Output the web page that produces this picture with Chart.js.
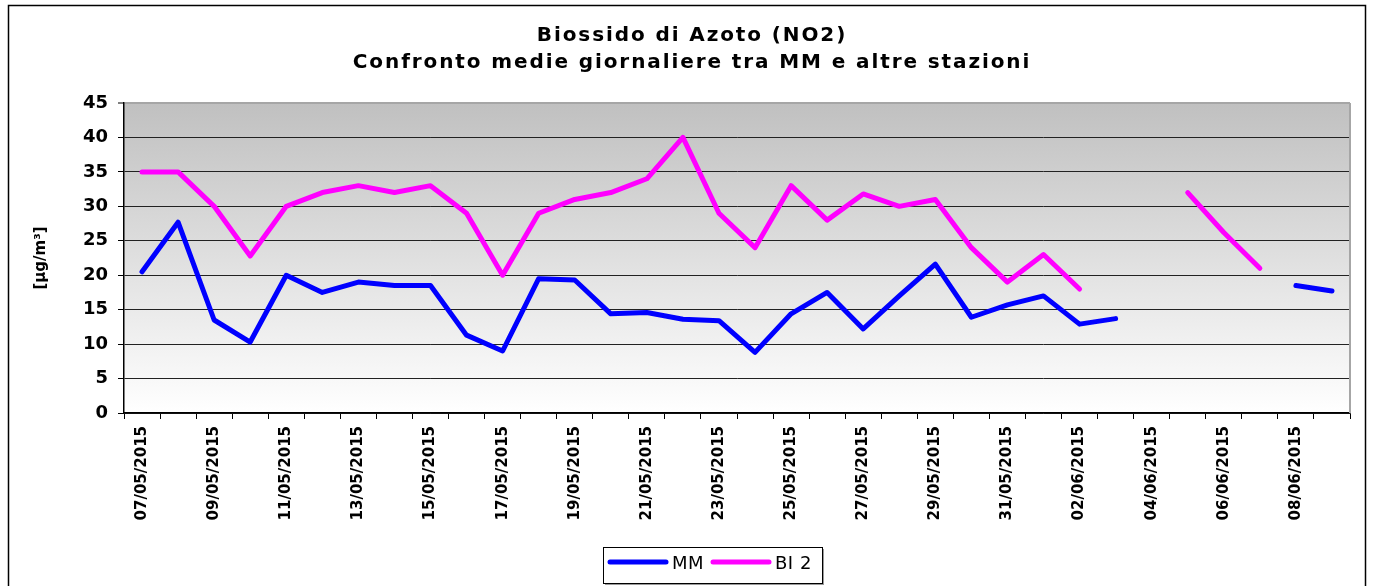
<!DOCTYPE html>
<html>
<head>
<meta charset="utf-8">
<script src="https://cdn.jsdelivr.net/npm/chart.js@4.4.0/dist/chart.umd.min.js"></script>
<style>
html,body{margin:0;padding:0;background:#fff;}
#wrap{width:1374px;height:586px;position:relative;overflow:hidden;}
canvas{display:block;}
</style>
</head>
<body>
<div id="wrap"><canvas id="c" width="1374" height="586"></canvas></div>
<script>
// ---- data ----
const categories = [
  '07/05/2015','08/05/2015','09/05/2015','10/05/2015','11/05/2015','12/05/2015','13/05/2015',
  '14/05/2015','15/05/2015','16/05/2015','17/05/2015','18/05/2015','19/05/2015','20/05/2015',
  '21/05/2015','22/05/2015','23/05/2015','24/05/2015','25/05/2015','26/05/2015','27/05/2015',
  '28/05/2015','29/05/2015','30/05/2015','31/05/2015','01/06/2015','02/06/2015','03/06/2015',
  '04/06/2015','05/06/2015','06/06/2015','07/06/2015','08/06/2015','09/06/2015'
];
const mmValues = [
  20.5, 27.7, 13.5, 10.3, 20.0, 17.5, 19.0, 18.5, 18.5, 11.3,
  9.0, 19.5, 19.3, 14.4, 14.6, 13.6, 13.4, 8.8, 14.4, 17.5,
  12.2, 17.0, 21.6, 13.9, 15.7, 17.0, 12.9, 13.7, null, null,
  null, null, 18.5, 17.7
];
const bi2Values = [
  35, 35, 30, 22.8, 30, 32, 33, 32, 33, 29,
  20, 29, 31, 32, 34, 40, 29, 24, 33, 28,
  31.8, 30, 31, 24, 19, 23, 18, null, null, 32,
  26.2, 21, null, null
];
const seriesNames = ['MM', 'BI 2'];
const seriesColors = ['#0000ff', '#ff00ff'];
const titleLines = ['Biossido di Azoto (NO2)', 'Confronto medie giornaliere tra MM e altre stazioni'];
const yAxisTitle = '[µg/m³]';
const yMin = 0, yMax = 45, yStep = 5;

const FONT = "'DejaVu Sans', 'Liberation Sans', Arial, sans-serif";
Chart.defaults.font.family = FONT;

const framePlugin = {
  id: 'frame',
  beforeDraw(chart) {
    const ctx = chart.ctx, a = chart.chartArea;
    ctx.save();
    ctx.fillStyle = '#ffffff';
    ctx.fillRect(0, 0, chart.width, chart.height);
    const g = ctx.createLinearGradient(0, a.top, 0, a.bottom);
    g.addColorStop(0, '#c0c0c0');
    g.addColorStop(1, '#ffffff');
    ctx.fillStyle = g;
    ctx.fillRect(a.left, a.top, a.right - a.left, a.bottom - a.top);
    ctx.restore();
  },
  beforeDatasetsDraw(chart) {
    const ctx = chart.ctx, a = chart.chartArea;
    ctx.save();
    ctx.strokeStyle = '#a6a6a6';
    ctx.lineWidth = 2;
    ctx.beginPath();
    ctx.moveTo(a.right, a.top);
    ctx.lineTo(a.right, a.bottom);
    ctx.stroke();
    ctx.restore();
  },
  afterDraw(chart) {
    const ctx = chart.ctx;
    ctx.save();
    // outer frame
    ctx.strokeStyle = '#000';
    ctx.lineWidth = 1.5;
    ctx.strokeRect(8.5, 5.5, 1357, 700);
    // title
    ctx.fillStyle = '#000';
    ctx.font = 'bold 20px ' + FONT;
    ctx.letterSpacing = '1.9px';
    ctx.textAlign = 'center';
    ctx.textBaseline = 'alphabetic';
    ctx.fillText(titleLines[0], 692, 41);
    ctx.fillText(titleLines[1], 692, 68);
    // legend
    ctx.letterSpacing = '0.5px';
    const bx = 603, by = 547, bw = 219, bh = 36;
    ctx.fillStyle = '#9a9a9a';
    ctx.fillRect(bx + 2, by + 2, bw, bh);
    ctx.fillStyle = '#fff';
    ctx.fillRect(bx, by, bw, bh);
    ctx.strokeStyle = '#000';
    ctx.lineWidth = 1;
    ctx.strokeRect(bx + 0.5, by + 0.5, bw, bh);
    const items = [{x0: 610, x1: 666, tx: 672}, {x0: 713, x1: 769, tx: 775}];
    chart.data.datasets.forEach((ds, i) => {
      const it = items[i];
      ctx.strokeStyle = ds.borderColor;
      ctx.lineWidth = 5;
      ctx.lineCap = 'round';
      ctx.beginPath();
      ctx.moveTo(it.x0, 562);
      ctx.lineTo(it.x1, 562);
      ctx.stroke();
      ctx.fillStyle = '#000';
      ctx.font = '18px ' + FONT;
      ctx.textAlign = 'left';
      ctx.textBaseline = 'middle';
      ctx.fillText(ds.label, it.tx, 564);
    });
    ctx.restore();
  }
};

new Chart(document.getElementById('c'), {
  type: 'line',
  data: {
    labels: categories,
    datasets: [
      { label: seriesNames[0], data: mmValues, borderColor: seriesColors[0], backgroundColor: seriesColors[0],
        borderWidth: 5, pointRadius: 0, borderCapStyle: 'round', borderJoinStyle: 'round', tension: 0, spanGaps: false, fill: false },
      { label: seriesNames[1], data: bi2Values, borderColor: seriesColors[1], backgroundColor: seriesColors[1],
        borderWidth: 5, pointRadius: 0, borderCapStyle: 'round', borderJoinStyle: 'round', tension: 0, spanGaps: false, fill: false }
    ]
  },
  options: {
    responsive: false,
    animation: false,
    devicePixelRatio: 1,
    layout: { padding: { left: 0, right: 24, top: 103, bottom: 0 } },
    plugins: { legend: { display: false }, title: { display: false }, tooltip: { enabled: false } },
    scales: {
      x: {
        type: 'category',
        offset: true,
        grid: { display: true, offset: true, drawOnChartArea: false, drawTicks: true, tickLength: 6, tickColor: '#000', tickWidth: 1 },
        border: { display: true, color: '#000', width: 1.5 },
        ticks: {
          autoSkip: false, maxRotation: 90, minRotation: 90, padding: 7, color: '#000',
          font: { size: 15, weight: 'bold' },
          callback: function (v, i) { return i % 2 === 0 ? this.getLabelForValue(v) : ''; }
        },
        afterFit(s) { s.height = 173; }
      },
      y: {
        min: yMin, max: yMax,
        ticks: { stepSize: yStep, padding: 10, color: '#000', font: { size: 18, weight: 'bold' } },
        grid: {
          color: (c) => (c.tick && c.tick.value === yMax) ? '#a6a6a6' : '#222',
          lineWidth: (c) => (c.tick && c.tick.value === yMax) ? 2 : 1,
          tickLength: 6, tickColor: '#000', tickWidth: 1, drawTicks: true
        },
        border: { display: true, color: '#000', width: 1.5 },
        title: { display: true, text: yAxisTitle, color: '#000', font: { size: 15, weight: 'bold' }, padding: { top: 32, bottom: 0 } },
        afterFit(s) { s.width = 124; }
      }
    }
  },
  plugins: [framePlugin]
});
</script>
</body>
</html>
